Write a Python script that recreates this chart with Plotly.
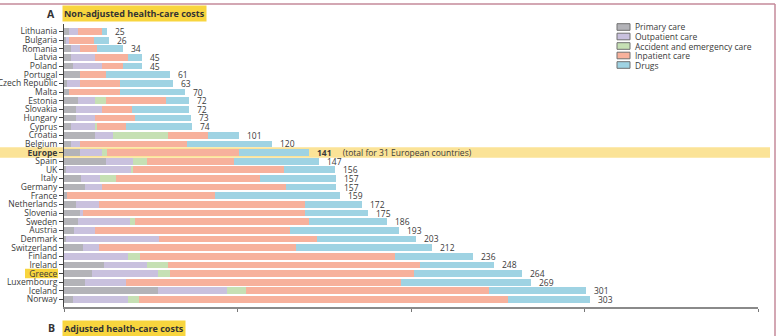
import plotly.graph_objects as go

countries = ["Lithuania", "Bulgaria", "Romania", "Latvia", "Poland", "Portugal", "Czech Republic",
             "Malta", "Estonia", "Slovakia", "Hungary", "Cyprus", "Croatia", "Belgium", "Europe",
             "Spain", "UK", "Italy", "Germany", "France", "Netherlands", "Slovenia", "Sweden",
             "Austria", "Denmark", "Switzerland", "Finland", "Ireland", "Greece", "Luxembourg",
             "Iceland", "Norway"]

primary =    [3, 1, 4, 4, 5, 9, 2, 3, 8, 7, 7, 4, 18, 4, 9, 24, 1, 10, 12, 2, 7, 9, 8, 6, 1, 11, 0, 23, 16, 12, 54, 5]
outpatient = [5, 2, 5, 14, 17, 0, 7, 0, 10, 15, 11, 14, 10, 5, 13, 16, 38, 11, 10, 0, 13, 2, 30, 12, 54, 9, 37, 25, 38, 24, 40, 32]
emergency =  [0, 0, 0, 0, 0, 0, 0, 0, 6, 0, 0, 1, 32, 0, 3, 8, 1, 9, 0, 0, 0, 0, 3, 0, 0, 0, 7, 12, 7, 0, 11, 6]
inpatient =  [14, 14, 10, 19, 12, 15, 23, 29, 35, 17, 23, 17, 23, 62, 76, 50, 87, 83, 106, 85, 119, 128, 100, 112, 91, 114, 147, 145, 141, 158, 140, 213]
drugs =      [3, 9, 15, 8, 11, 37, 31, 38, 13, 33, 32, 38, 18, 49, 40, 49, 29, 44, 29, 72, 33, 36, 45, 63, 57, 78, 45, 43, 62, 75, 56, 47]
totals =     [25, 26, 34, 45, 45, 61, 63, 70, 72, 72, 73, 74, 101, 120, 141, 147, 156, 157, 157, 159,
              172, 175, 186, 193, 203, 212, 236, 248, 264, 269, 301, 303]

series_names = ["Primary care", "Outpatient care", "Accident and emergency care", "Inpatient care", "Drugs"]
series_vals = [primary, outpatient, emergency, inpatient, drugs]
colors = ["#b3b3b8", "#c9c1de", "#c6e0b4", "#f7b19c", "#9fd3e3"]

x_ticks = [0, 100, 200, 300, 400]

fig = go.Figure()
for name, vals, col in zip(series_names, series_vals, colors):
    fig.add_trace(go.Bar(y=countries, x=vals, name=name, orientation="h",
                         marker=dict(color=col, line=dict(width=0)), showlegend=False,
                         hoverinfo="x+name"))

font = "Open Sans"
ticktext = ["<b>Europe</b>" if c == "Europe" else c for c in countries]

annotations = []
for c, t in zip(countries, totals):
    if c == "Europe":
        txt = "<b>%d</b>     (total for 31 European countries)" % t
    else:
        txt = str(t)
    annotations.append(dict(x=t, y=c, xref="x", yref="y", text=txt, showarrow=False,
                            xanchor="left", xshift=6, yshift=0,
                            font=dict(family=font, size=8.5, color="#3a3a3a")))

PW, PH = 694, 283
def px_x(px):
    return (px - 64) / PW
def px_y(py):
    return (307 - py) / PH

# panel titles
annotations.append(dict(x=px_x(57), y=px_y(14), xref="paper", yref="paper", text="<b>A</b>",
                        showarrow=False, xanchor="right", yanchor="middle",
                        font=dict(family=font, size=10.5, color="#333")))
annotations.append(dict(x=px_x(62), y=px_y(14), xref="paper", yref="paper",
                        text="<b>Non-adjusted health-care costs</b>",
                        showarrow=False, xanchor="left", yanchor="middle", bgcolor="#f8d53e",
                        borderpad=1, font=dict(family=font, size=9, color="#333")))
annotations.append(dict(x=px_x(57), y=px_y(328), xref="paper", yref="paper", text="<b>B</b>",
                        showarrow=False, xanchor="right", yanchor="middle",
                        font=dict(family=font, size=10.5, color="#333")))
annotations.append(dict(x=px_x(62), y=px_y(328), xref="paper", yref="paper",
                        text="<b>Adjusted health-care costs</b>",
                        showarrow=False, xanchor="left", yanchor="middle", bgcolor="#f8d53e",
                        borderpad=1, font=dict(family=font, size=9, color="#333")))

shapes = []
# Europe highlight band
ei = countries.index("Europe")
shapes.append(dict(type="rect", xref="paper", yref="y", x0=px_x(0), x1=px_x(770),
                   y0=ei - 0.6, y1=ei + 0.6, fillcolor="#fbe397", line=dict(width=0), layer="below"))
# Greece label highlight
gi = countries.index("Greece")
shapes.append(dict(type="rect", xref="paper", yref="y", x0=px_x(25), x1=px_x(58),
                   y0=gi - 0.55, y1=gi + 0.55, fillcolor="#f8d53e", line=dict(width=0), layer="below"))
# pink frame
shapes.append(dict(type="line", xref="paper", yref="paper", x0=px_x(0), x1=px_x(775), y0=px_y(4), y1=px_y(4),
                   line=dict(color="#c48a9a", width=1.5)))
shapes.append(dict(type="line", xref="paper", yref="paper", x0=px_x(775), x1=px_x(775), y0=px_y(4), y1=px_y(336),
                   line=dict(color="#c48a9a", width=1.5)))

# manual legend
leg_rows = [27, 36.5, 46, 55.5, 65]
for name, col, py in zip(series_names, colors, leg_rows):
    yc = px_y(py)
    shapes.append(dict(type="rect", xref="paper", yref="paper", x0=px_x(617), x1=px_x(630),
                       y0=yc - 3.3 / PH, y1=yc + 3.3 / PH, fillcolor=col,
                       line=dict(color="#707070", width=1)))
    annotations.append(dict(x=px_x(633), y=yc, xref="paper", yref="paper", text=name, showarrow=False,
                            xanchor="left", yanchor="middle",
                            font=dict(family=font, size=8.5, color="#3a3a3a")))

fig.update_layout(
    barmode="stack", bargap=0.22,
    width=782, height=336,
    margin=dict(l=64, r=24, t=24, b=29, autoexpand=False),
    paper_bgcolor="white", plot_bgcolor="white",
    font=dict(family=font, size=8.5, color="#3a3a3a"),
    xaxis=dict(range=[0, 400], tickvals=x_ticks, showticklabels=False, ticks="outside", ticklen=3,
               tickcolor="#777", showgrid=False, zeroline=False, showline=True, linecolor="#8a8a8a",
               linewidth=1.5, fixedrange=True, automargin=False),
    yaxis=dict(categoryorder="array", categoryarray=countries, tickvals=countries, ticktext=ticktext,
               autorange="reversed", ticks="outside", ticklen=4, tickcolor="#444", showgrid=False,
               showline=True, linecolor="#444", linewidth=1,
               tickfont=dict(family=font, size=8.5, color="#3a3a3a"),
               fixedrange=True, automargin=False),
    shapes=shapes, annotations=annotations,
)

fig.write_html("out.html")
